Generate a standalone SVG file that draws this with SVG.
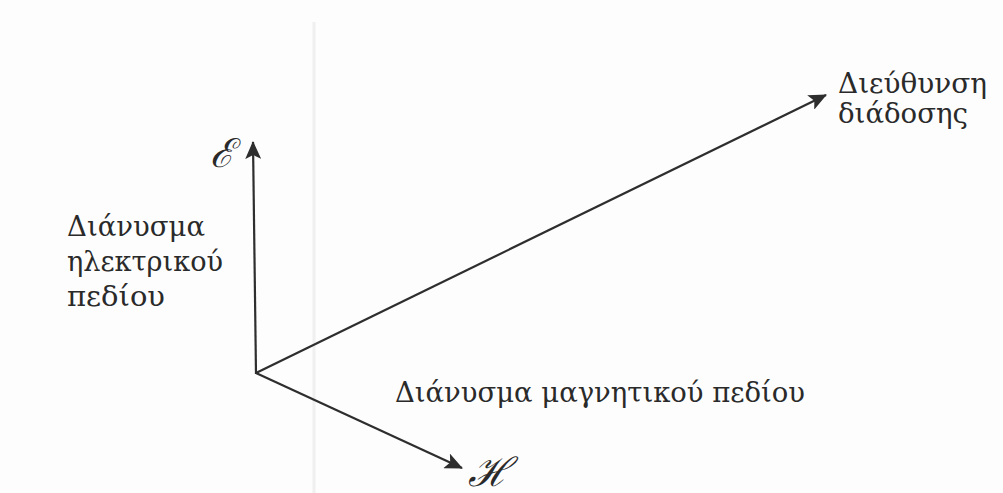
<svg xmlns="http://www.w3.org/2000/svg" width="1003" height="493" viewBox="0 0 1003 493">
  <defs>
    <style>
      .lbl { font-family: "DejaVu Serif", "Liberation Serif", serif; font-size: 28px; fill: #2a2a2a; }
      .sym { font-family: "DejaVu Serif", "Liberation Serif", serif; font-style: italic; font-size: 40px; fill: #2a2a2a; }
      .vec { stroke: #2e2e2e; stroke-width: 2.2; fill: none; marker-end: url(#arrow); }
    </style>
    <marker id="arrow" viewBox="0 0 18 16" refX="17" refY="8" markerWidth="18" markerHeight="16" markerUnits="userSpaceOnUse" orient="auto">
      <path d="M0,0 L18,8 L0,16 L4,8 Z" fill="#2e2e2e"/>
    </marker>
  </defs>
  <rect x="0" y="0" width="1003" height="493" fill="#fdfdfd"/>
  <line x1="314" y1="22" x2="314" y2="493" stroke="#f0f0f0" stroke-width="3"/>

  <g id="connectors">
    <line class="vec" x1="256" y1="374" x2="253" y2="142"/>
    <line class="vec" x1="256" y1="373" x2="826" y2="95"/>
    <line class="vec" x1="256" y1="373" x2="462" y2="468"/>
  </g>

  <g id="node-E">
    <text class="sym" x="210" y="167">ℰ</text>
  </g>
  <g id="node-H">
    <text class="sym" x="468" y="486">ℋ</text>
  </g>
  <g id="node-electric-label">
    <text class="lbl" x="67" y="236" textLength="138" lengthAdjust="spacingAndGlyphs">Διάνυσμα</text>
    <text class="lbl" x="67" y="271" textLength="156" lengthAdjust="spacingAndGlyphs">ηλεκτρικού</text>
    <text class="lbl" x="67" y="306" textLength="98" lengthAdjust="spacingAndGlyphs">πεδίου</text>
  </g>
  <g id="node-magnetic-label">
    <text class="lbl" x="395" y="402" textLength="410" lengthAdjust="spacingAndGlyphs">Διάνυσμα μαγνητικού πεδίου</text>
  </g>
  <g id="node-propagation-label">
    <text class="lbl" x="838" y="93" textLength="149" lengthAdjust="spacingAndGlyphs">Διεύθυνση</text>
    <text class="lbl" x="838" y="123" textLength="130" lengthAdjust="spacingAndGlyphs">διάδοσης</text>
  </g>
</svg>
